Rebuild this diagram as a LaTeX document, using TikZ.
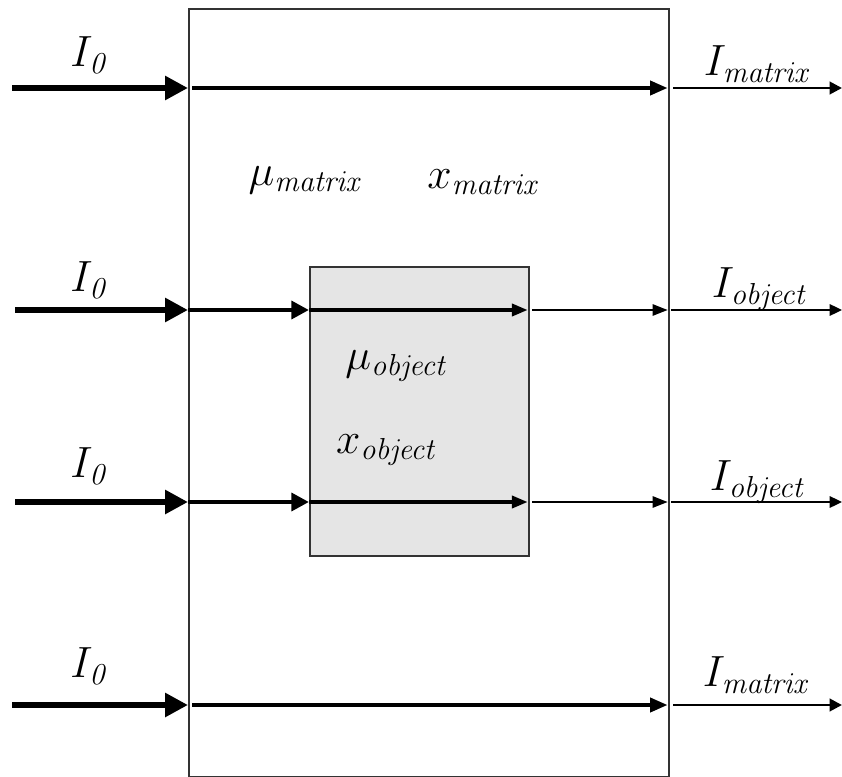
\documentclass[tikz,border=0pt]{standalone}
\usetikzlibrary{arrows.meta}
\begin{document}
\begin{tikzpicture}[x=0.02cm,y=-0.02cm,
  frame/.style={draw=black!80,line width=0.9pt,inner sep=0pt},
  lbl/.style={inner sep=0pt,font=\fontsize{25}{29}\selectfont},
  inA/.style={line width=3.4pt,-{Triangle[length=13pt,width=13pt]}},
  inB/.style={line width=2.6pt,-{Triangle[length=10pt,width=10pt]}},
  midA/.style={line width=2.2pt,-{Triangle[length=10pt,width=8pt]}},
  midB/.style={line width=1.8pt,-{Triangle[length=9pt,width=7pt]}},
  thinA/.style={line width=0.85pt,-{Triangle[length=8.5pt,width=6.5pt]}},
  outA/.style={line width=1.6pt,-{Triangle[length=7pt,width=7pt]}},
  outB/.style={line width=1.1pt,-{Triangle[length=7pt,width=6.5pt]}}]
\useasboundingbox (0,0) rectangle (842,777);
% boxes
\node[frame,minimum width=480*0.02cm,minimum height=768*0.02cm,anchor=north west] (big) at (188,8) {};
\node[frame,fill=black!10,minimum width=219*0.02cm,minimum height=289*0.02cm,anchor=north west] (obj) at (309,266) {};
% coordinates
\foreach \r/\y in {1/88,2/310,3/502,4/705}{
  \coordinate (s\r) at (12,\y);
  \coordinate (b\r) at (big.west |- 0,\y);
  \coordinate (bi\r) at (192,\y);
  \coordinate (be\r) at (big.east |- 0,\y);
  \coordinate (bo\r) at (673,\y);
  \coordinate (e\r) at (842,\y);
}
\coordinate (o2) at (obj.west |- 0,310);
\coordinate (oe2) at (obj.east |- 0,310);
\coordinate (oo2) at (532,310);
\coordinate (o3) at (obj.west |- 0,502);
\coordinate (oe3) at (obj.east |- 0,502);
\coordinate (oo3) at (532,502);
\coordinate (bo2) at (671,310);
\coordinate (bo3) at (671,502);
% row 1 and 4
\foreach \r in {1,4}{
  \draw[inA] (s\r) -- (b\r);
  \draw[midA] (bi\r) -- ([xshift=-2*0.02cm]be\r);
  \draw[outA] (bo\r) -- (e\r);
}
% rows 2 and 3
\foreach \r in {2,3}{
  \draw[inA] ([xshift=3*0.02cm]s\r) -- (b\r);
  \draw[inB] (b\r) -- (o\r);
  \draw[midB] (o\r) -- ([xshift=-2*0.02cm]oe\r);
  \draw[thinA] (oo\r) -- ([xshift=-2*0.02cm]be\r);
  \draw[outB] (bo\r) -- (e\r);
}
% labels
\node[lbl] (l1) at (90,55) {$I_{\mathit{0}}$};
\node[lbl] (l2) at (90,280) {$I_{\mathit{0}}$};
\node[lbl] (l3) at (90,466) {$I_{\mathit{0}}$};
\node[lbl] (l4) at (90,666) {$I_{\mathit{0}}$};
\node[lbl] (r1) at (758,64) {$I_{\mathit{matrix}}$};
\node[lbl] (r2) at (760,289) {$I_{\mathit{object}}$};
\node[lbl] (r3) at (758,482) {$I_{\mathit{object}}$};
\node[lbl] (r4) at (757,675) {$I_{\mathit{matrix}}$};
\node[lbl] (mm) at (306,180) {$\mu_{\mathit{matrix}}$};
\node[lbl] (xm) at (484,182) {$x_{\mathit{matrix}}$};
\node[lbl] (mo) at (397,366) {$\mu_{\mathit{object}}$};
\node[lbl] (xo) at (387,450) {$x_{\mathit{object}}$};
\end{tikzpicture}
\end{document}
